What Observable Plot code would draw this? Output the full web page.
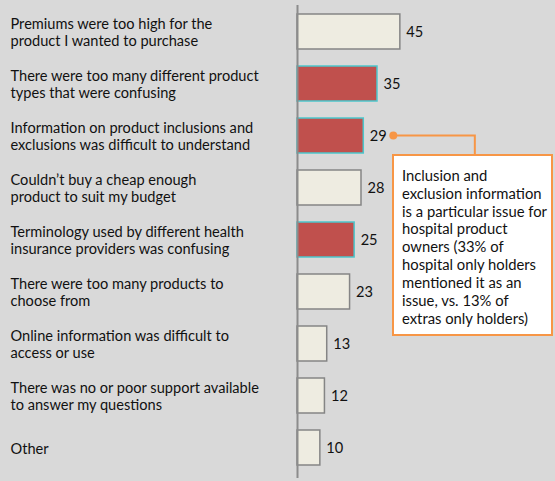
<!DOCTYPE html>
<html><head><meta charset="utf-8">
<script src="https://cdn.jsdelivr.net/npm/d3@7"></script>
<script src="https://cdn.jsdelivr.net/npm/@observablehq/plot@0.6"></script>
<style>
html,body{margin:0;padding:0;background:#d9d9d9;}
#chart{width:555px;height:481px;}
svg{display:block;}
</style></head>
<body><div id="chart"></div>
<script>
const categories = [
  "Premiums were too high for the\nproduct I wanted to purchase",
  "There were too many different product\ntypes that were confusing",
  "Information on product inclusions and\nexclusions was difficult to understand",
  "Couldn\u2019t buy a cheap enough\nproduct to suit my budget",
  "Terminology used by different health\ninsurance providers was confusing",
  "There were too many products to\nchoose from",
  "Online information was difficult to\naccess or use",
  "There was no or poor support available\nto answer my questions",
  "Other"
];
const values = [45, 35, 29, 28, 25, 23, 13, 12, 10];
const highlighted = [false, true, true, false, true, false, false, false, false];
const noteTarget = 2;
const noteLines = [
  "Inclusion and",
  "exclusion information",
  "is a particular issue for",
  "hospital product",
  "owners (33% of",
  "hospital only holders",
  "mentioned it as an",
  "issue, vs. 13% of",
  "extras only holders)"
];

const data = categories.map((c, i) => ({cat: c, value: values[i], hi: highlighted[i]}));
const font = "Lato, 'Open Sans', sans-serif";

const plot = Plot.plot({
  width: 555,
  height: 481,
  marginLeft: 297,
  marginRight: 2,
  marginTop: 11.5,
  marginBottom: 14.5,
  style: {background: "#d9d9d9", fontFamily: font, fontSize: "14.6px"},
  x: {domain: [0, 112], axis: null},
  y: {domain: categories, axis: null, paddingInner: 0.33, paddingOuter: 0},
  marks: [
    Plot.barX(data, {
      x: "value", y: "cat",
      fill: d => d.hi ? "#c0504d" : "#eeece1",
      stroke: d => d.hi ? "#4cc6cc" : "#858585",
      strokeWidth: 1.5
    }),
    Plot.ruleX([0], {stroke: "#8c8c8c", strokeWidth: 2, insetTop: -6.5, insetBottom: -11.5}),
    Plot.text(data, {
      x: "value", y: "cat", text: d => String(d.value),
      dx: 6, textAnchor: "start", fill: "#111", fontSize: 14.6
    }),
    Plot.text(data, {
      y: "cat", text: "cat", frameAnchor: "left", dx: -287, dy: 0,
      textAnchor: "start", lineHeight: 1.2, fill: "#111", fontSize: 14.6
    })
  ]
});

document.getElementById("chart").appendChild(plot);

// annotation positioned from the plot's own scales
const xs = plot.scale("x"), ys = plot.scale("y");
const svg = d3.select(plot);
const bw = ys.bandwidth;
const cy = ys.apply(categories[noteTarget]) + bw / 2;
const dotX = xs.apply(values[noteTarget]) + 30;
const boxX1 = xs.apply(42), boxX2 = xs.apply(112) - 1;
const boxY1 = ys.apply(categories[noteTarget]) + bw + 2;
const boxY2 = ys.apply(categories[6]) + 9;
const elbowX = xs.apply(77.8);
const g = svg.append("g").attr("text-anchor", "start");
g.append("path")
  .attr("d", `M${dotX},${cy}H${elbowX}V${boxY1}`)
  .attr("fill", "none").attr("stroke", "#f79646").attr("stroke-width", 2);
g.append("circle").attr("cx", dotX).attr("cy", cy).attr("r", 4).attr("fill", "#f79646");
g.append("rect").attr("x", boxX1).attr("y", boxY1)
  .attr("width", boxX2 - boxX1).attr("height", boxY2 - boxY1)
  .attr("fill", "#ffffff").attr("stroke", "#f79646").attr("stroke-width", 2);
const t = g.append("text").attr("font-family", font).attr("font-size", 14.8)
  .attr("fill", "#111").attr("text-anchor", "start");
noteLines.forEach((line, i) => {
  t.append("tspan").attr("x", boxX1 + 9).attr("y", boxY1 + 22 + i * 17.9)
    .attr("dominant-baseline", "middle").text(line);
});
</script>
</body></html>
